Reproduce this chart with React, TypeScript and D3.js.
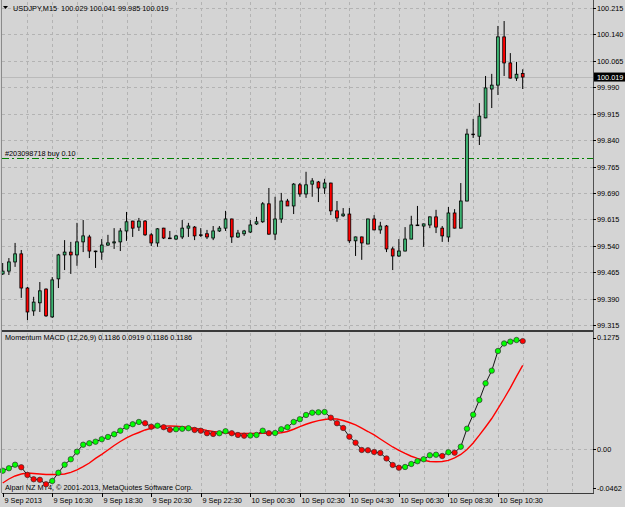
import { useEffect, useRef } from 'react'
import * as d3 from 'd3'

// USDJPY M15, 85 bars from 9 Sep 14:30 to 10 Sep 11:30
const opens = [
  99.460, 99.468, 99.494, 99.517, 99.420, 99.355, 99.378, 99.417, 99.338, 99.446,
  99.514, 99.522, 99.514, 99.551, 99.565, 99.525, 99.522, 99.542, 99.548, 99.551,
  99.582, 99.610, 99.593, 99.610, 99.571, 99.548, 99.590, 99.562, 99.559, 99.565,
  99.590, 99.593, 99.571, 99.574, 99.562, 99.582, 99.590, 99.616, 99.565, 99.574,
  99.579, 99.602, 99.608, 99.659, 99.573, 99.616, 99.667, 99.653, 99.713, 99.687,
  99.715, 99.721, 99.704, 99.718, 99.639, 99.625, 99.630, 99.554, 99.565, 99.545,
  99.616, 99.585, 99.596, 99.531, 99.511, 99.525, 99.559, 99.599, 99.596, 99.599,
  99.622, 99.590, 99.565, 99.633, 99.590, 99.667, 99.857, 99.851, 99.903, 99.985,
  99.996, 100.133, 100.059, 100.016, 100.029,
]
const highs = [
  99.491, 99.505, 99.548, 99.528, 99.423, 99.395, 99.437, 99.419, 99.451, 99.517,
  99.556, 99.551, 99.605, 99.613, 99.571, 99.526, 99.559, 99.571, 99.590, 99.590,
  99.636, 99.611, 99.619, 99.613, 99.576, 99.590, 99.591, 99.582, 99.571, 99.613,
  99.605, 99.596, 99.590, 99.585, 99.596, 99.596, 99.639, 99.617, 99.585, 99.585,
  99.613, 99.622, 99.664, 99.704, 99.679, 99.690, 99.673, 99.718, 99.718, 99.750,
  99.732, 99.724, 99.730, 99.719, 99.667, 99.647, 99.647, 99.566, 99.566, 99.617,
  99.627, 99.608, 99.599, 99.537, 99.559, 99.593, 99.625, 99.653, 99.603, 99.623,
  99.642, 99.596, 99.650, 99.644, 99.718, 99.872, 99.900, 99.945, 100.022, 100.028,
  100.164, 100.178, 100.087, 100.062, 100.041,
]
const lows = [
  99.457, 99.457, 99.480, 99.392, 99.329, 99.341, 99.352, 99.338, 99.335, 99.420,
  99.471, 99.460, 99.483, 99.522, 99.505, 99.477, 99.500, 99.539, 99.531, 99.525,
  99.554, 99.565, 99.582, 99.568, 99.539, 99.537, 99.559, 99.559, 99.556, 99.559,
  99.565, 99.556, 99.565, 99.559, 99.556, 99.579, 99.582, 99.548, 99.562, 99.568,
  99.576, 99.599, 99.605, 99.571, 99.556, 99.605, 99.653, 99.630, 99.679, 99.676,
  99.679, 99.664, 99.687, 99.627, 99.608, 99.622, 99.548, 99.511, 99.500, 99.544,
  99.584, 99.574, 99.522, 99.471, 99.508, 99.524, 99.558, 99.596, 99.537, 99.590,
  99.576, 99.551, 99.551, 99.589, 99.589, 99.666, 99.846, 99.826, 99.902, 99.931,
  99.968, 100.022, 100.015, 100.008, 99.985,
]
const closes = [
  99.468, 99.494, 99.517, 99.420, 99.352, 99.380, 99.412, 99.341, 99.443, 99.514,
  99.522, 99.514, 99.551, 99.568, 99.525, 99.523, 99.542, 99.548, 99.551, 99.582,
  99.608, 99.590, 99.610, 99.571, 99.548, 99.588, 99.562, 99.560, 99.568, 99.590,
  99.596, 99.568, 99.571, 99.565, 99.582, 99.590, 99.616, 99.565, 99.576, 99.582,
  99.599, 99.608, 99.659, 99.573, 99.616, 99.667, 99.653, 99.715, 99.687, 99.713,
  99.724, 99.704, 99.718, 99.639, 99.619, 99.630, 99.554, 99.565, 99.548, 99.616,
  99.585, 99.596, 99.531, 99.511, 99.525, 99.559, 99.599, 99.597, 99.602, 99.622,
  99.593, 99.568, 99.633, 99.590, 99.667, 99.857, 99.856, 99.908, 99.988, 99.996,
  100.133, 100.059, 100.016, 100.027, 100.019,
]

// Momentum MACD (12,26,9)
const macd = [
  -0.0239, -0.0212, -0.0173, -0.0201, -0.0286, -0.0333, -0.0339, -0.0388, -0.0352, -0.0261,
  -0.0173, -0.0113, -0.0030, 0.0047, 0.0063, 0.0080, 0.0107, 0.0132, 0.0162, 0.0201,
  0.0245, 0.0272, 0.0297, 0.0283, 0.0245, 0.0256, 0.0239, 0.0211, 0.0217, 0.0222,
  0.0228, 0.0209, 0.0201, 0.0173, 0.0165, 0.0173, 0.0195, 0.0173, 0.0154, 0.0146,
  0.0148, 0.0154, 0.0201, 0.0173, 0.0176, 0.0217, 0.0239, 0.0297, 0.0327, 0.0374,
  0.0399, 0.0403, 0.0407, 0.0344, 0.0283, 0.0231, 0.0135, 0.0069, -0.0011, -0.0014,
  -0.0033, -0.0044, -0.0104, -0.0176, -0.0206, -0.0198, -0.0165, -0.0135, -0.0113, -0.0069,
  -0.0063, -0.0077, -0.0036, -0.0041, 0.0025, 0.0223, 0.0377, 0.0539, 0.0722, 0.0861,
  0.1077, 0.1160, 0.1180, 0.1198, 0.1186,
]
const signal = [
  -0.0374, -0.0330, -0.0297, -0.0275, -0.0264, -0.0269, -0.0275, -0.0280, -0.0280, -0.0280,
  -0.0275, -0.0258, -0.0231, -0.0195, -0.0154, -0.0104, -0.0060, -0.0011, 0.0038, 0.0082,
  0.0121, 0.0154, 0.0181, 0.0209, 0.0228, 0.0242, 0.0251, 0.0253, 0.0250, 0.0245,
  0.0236, 0.0228, 0.0217, 0.0203, 0.0192, 0.0184, 0.0176, 0.0173, 0.0170, 0.0170,
  0.0170, 0.0170, 0.0173, 0.0173, 0.0173, 0.0178, 0.0192, 0.0217, 0.0245, 0.0272,
  0.0294, 0.0311, 0.0324, 0.0333, 0.0330, 0.0313, 0.0291, 0.0264, 0.0228, 0.0192,
  0.0154, 0.0110, 0.0066, 0.0022, -0.0016, -0.0049, -0.0080, -0.0104, -0.0124, -0.0137,
  -0.0141, -0.0137, -0.0126, -0.0099, -0.0060, -0.0005, 0.0066, 0.0152, 0.0242, 0.0335,
  0.0444, 0.0555, 0.0671, 0.0799, 0.0919,
]

const priceTicks = [
  100.215, 100.14, 100.065, 99.99, 99.915, 99.84, 99.765, 99.69, 99.615, 99.54, 99.465, 99.39, 99.315,
]
const macdTicks = [0.1275, 0, -0.0462]
const macdTickLabels = ['0.1275', '0.00', '-0.0462']
const timeTickBars = [0, 8, 16, 24, 32, 40, 48, 56, 64, 72, 80]
const timeTickLabels = [
  '9 Sep 2013', '9 Sep 16:30', '9 Sep 18:30', '9 Sep 20:30', '9 Sep 22:30',
  '10 Sep 00:30', '10 Sep 02:30', '10 Sep 04:30', '10 Sep 06:30', '10 Sep 08:30', '10 Sep 10:30',
]
const orderPrice = 99.79
const orderLabel = '#203098718 buy 0.10'
const symbol = 'USDJPY,M15'
const macdTitle = 'Momentum MACD (12,26,9)'
const copyright = 'Alpari NZ MT4, \u00a9 2001-2013, MetaQuotes Software Corp.'

const W = 625
const H = 507
const FONT = 'Tahoma, "Liberation Sans", Arial, sans-serif'
const FS = '7.3px'

export default function App() {
  const svgRef = useRef<SVGSVGElement>(null)

  useEffect(() => {
    if (!svgRef.current) return
    const svg = d3.select(svgRef.current)
    svg.selectAll('*').remove()

    const left = 2
    const right = 593
    const mainTop = 2
    const mainBottom = 330
    const subTop = 333
    const subBottom = 493
    const n = closes.length

    const x = d3.scaleLinear().domain([0, n - 1]).range([2.7, 522.7])
    const y = d3.scaleLinear().domain([99.315, 100.215]).range([325, 8])
    const ym = d3.scaleLinear().domain([-0.0462, 0.1275]).range([491, 333])

    svg.append('rect').attr('width', W).attr('height', H).attr('fill', '#d4d4d4')

    // grid
    const grid = svg.append('g').attr('stroke', '#b3b3b3').attr('stroke-dasharray', '3,3').attr('shape-rendering', 'crispEdges')
    priceTicks.forEach(t => {
      grid.append('line').attr('x1', left).attr('x2', right)
        .attr('y1', Math.round(y(t)) + 0.5).attr('y2', Math.round(y(t)) + 0.5)
    })
    grid.append('line').attr('x1', left).attr('x2', right)
      .attr('y1', Math.round(ym(0)) + 0.5).attr('y2', Math.round(ym(0)) + 0.5)
    d3.range(4, 96, 4).forEach(i => {
      const gx = Math.round(x(i)) + 0.5
      if (gx >= right) return
      grid.append('line').attr('x1', gx).attr('x2', gx).attr('y1', mainTop).attr('y2', mainBottom)
      grid.append('line').attr('x1', gx).attr('x2', gx).attr('y1', subTop).attr('y2', subBottom)
    })

    // bid line
    const bidY = Math.round(y(closes[n - 1])) + 0.5
    svg.append('line').attr('x1', left).attr('x2', right).attr('y1', bidY).attr('y2', bidY)
      .attr('stroke', '#bababa').attr('shape-rendering', 'crispEdges')

    // order line
    const oy = Math.round(y(orderPrice)) + 0.5
    svg.append('line').attr('x1', left).attr('x2', right).attr('y1', oy).attr('y2', oy)
      .attr('stroke', '#008000').attr('stroke-dasharray', '7,3,2,3')
    svg.append('text').attr('x', 5).attr('y', oy - 3)
      .attr('font-family', FONT).attr('font-size', FS).attr('fill', '#000')
      .text(orderLabel)

    // candles
    const candles = svg.append('g')
    d3.range(n).forEach(i => {
      const cx = x(i)
      candles.append('line').attr('x1', cx).attr('x2', cx)
        .attr('y1', y(highs[i])).attr('y2', y(lows[i]))
        .attr('stroke', '#000').attr('stroke-width', 1)
      const top = y(Math.max(opens[i], closes[i]))
      const bot = y(Math.min(opens[i], closes[i]))
      const fill = closes[i] > opens[i] ? '#3cb371' : closes[i] < opens[i] ? '#ff0000' : '#000'
      candles.append('rect')
        .attr('x', cx - 1.4).attr('y', top).attr('width', 2.8).attr('height', Math.max(0.6, bot - top))
        .attr('fill', fill).attr('stroke', '#000').attr('stroke-width', 0.8)
    })

    // header
    svg.append('path').attr('d', 'M3,6 L8,6 L5.5,9 Z').attr('fill', '#000')
    const last = n - 1
    svg.append('text').attr('x', 13).attr('y', 11)
      .attr('font-family', FONT).attr('font-size', FS).attr('fill', '#000')
      .attr('xml:space', 'preserve')
      .text(`${symbol}  ${opens[last].toFixed(3)} ${highs[last].toFixed(3)} ${lows[last].toFixed(3)} ${closes[last].toFixed(3)}`)

    // MACD sub window
    svg.append('text').attr('x', 5).attr('y', 340)
      .attr('font-family', FONT).attr('font-size', FS).attr('fill', '#000')
      .text(`${macdTitle} ${macd[last].toFixed(4)} ${signal[last].toFixed(4)} ${macd[last].toFixed(4)} ${macd[last].toFixed(4)}`)
    svg.append('text').attr('x', 5).attr('y', 490)
      .attr('font-family', FONT).attr('font-size', FS).attr('fill', '#000')
      .text(copyright)

    svg.append('path').datum(signal)
      .attr('fill', 'none').attr('stroke', '#ff0000').attr('stroke-width', 1.4)
      .attr('d', d3.line<number>().x((_, i) => x(i)).y(d => ym(d)))
    svg.append('path').datum(macd)
      .attr('fill', 'none').attr('stroke', '#000').attr('stroke-width', 0.9)
      .attr('d', d3.line<number>().x((_, i) => x(i)).y(d => ym(d)))
    svg.append('g').selectAll('circle').data(macd).join('circle')
      .attr('cx', (_, i) => x(i)).attr('cy', d => ym(d)).attr('r', 2.7)
      .attr('fill', (d, i) => (i === 0 || d >= macd[i - 1] ? '#00ff00' : '#ff0000'))
      .attr('stroke', '#333').attr('stroke-width', 0.7)

    // frame
    const frame = svg.append('g').attr('shape-rendering', 'crispEdges')
    frame.append('line').attr('x1', 1.5).attr('x2', 1.5).attr('y1', 0).attr('y2', subBottom).attr('stroke', '#8a8a8a')
    frame.append('line').attr('x1', right + 0.5).attr('x2', right + 0.5).attr('y1', 0).attr('y2', subBottom + 1).attr('stroke', '#505050')
    frame.append('rect').attr('x', left).attr('y', mainBottom).attr('width', right - left).attr('height', 2).attr('fill', '#3a3a3a')
    frame.append('line').attr('x1', left).attr('x2', right + 1).attr('y1', subBottom + 0.5).attr('y2', subBottom + 0.5).attr('stroke', '#3a3a3a')

    // price axis
    const axis = svg.append('g').attr('font-family', FONT).attr('font-size', FS).attr('fill', '#000')
    priceTicks.forEach(t => {
      const ty = Math.round(y(t)) + 0.5
      axis.append('line').attr('x1', right).attr('x2', right + 3).attr('y1', ty).attr('y2', ty)
        .attr('stroke', '#000').attr('shape-rendering', 'crispEdges')
      axis.append('text').attr('x', right + 4).attr('y', ty).attr('dy', '0.35em').text(t.toFixed(3))
    })
    const bx = closes[last]
    axis.append('rect').attr('x', right + 1).attr('y', y(bx) - 4.5).attr('width', W - right - 1).attr('height', 9).attr('fill', '#000')
    axis.append('text').attr('x', right + 4).attr('y', y(bx)).attr('dy', '0.35em').attr('fill', '#fff').text(bx.toFixed(3))

    macdTicks.forEach((t, k) => {
      const ty = ym(t)
      const ly = k === 0 ? ty + 4.5 : k === macdTicks.length - 1 ? ty - 3 : ty
      axis.append('line').attr('x1', right).attr('x2', right + 3).attr('y1', Math.round(ly) + 0.5).attr('y2', Math.round(ly) + 0.5)
        .attr('stroke', '#000').attr('shape-rendering', 'crispEdges')
      axis.append('text').attr('x', right + 4).attr('y', ly).attr('dy', '0.35em').text(macdTickLabels[k])
    })

    // time axis
    timeTickBars.forEach((b, k) => {
      const tx = Math.round(x(b)) + 0.5
      axis.append('line').attr('x1', tx).attr('x2', tx).attr('y1', subBottom).attr('y2', subBottom + 4)
        .attr('stroke', '#000').attr('shape-rendering', 'crispEdges')
      axis.append('text').attr('x', tx + 1).attr('y', 503).text(timeTickLabels[k])
    })
  }, [])

  return (
    <svg ref={svgRef} width={W} height={H}
      style={{ position: 'absolute', left: 0, top: 0, display: 'block' }} />
  )
}
